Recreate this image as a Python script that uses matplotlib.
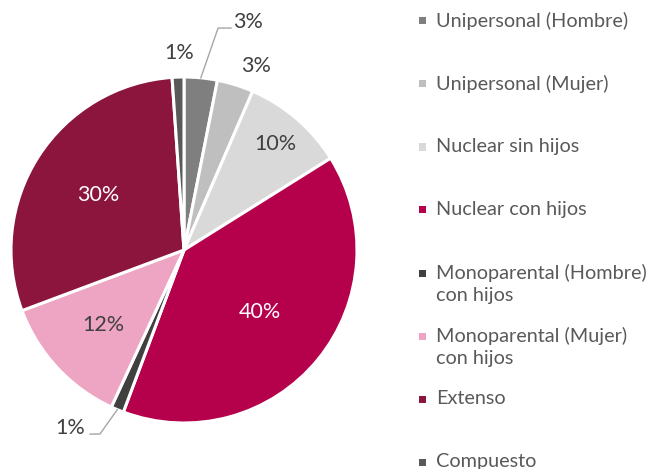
import numpy as np
import matplotlib
matplotlib.use('Agg')
import matplotlib.pyplot as plt
from matplotlib.patches import Rectangle

##DATA##########################################################################
categorias = ['Unipersonal (Hombre)', 'Unipersonal (Mujer)', 'Nuclear sin hijos',
              'Nuclear con hijos', 'Monoparental (Hombre)\ncon hijos',
              'Monoparental (Mujer)\ncon hijos', 'Extenso', 'Compuesto']
porcentajes = [3.1, 3.4, 9.6, 39.6, 1.2, 12.4, 29.6, 1.1]
colores = ['#7f7f7f', '#bfbfbf', '#d9d9d9', '#b5004b', '#404040',
           '#eea5c3', '#8c153d', '#595959']
################################################################################

plt.rcParams['font.family'] = ['Lato', 'DejaVu Sans']

fig = plt.figure(figsize=(6.52, 4.69), dpi=100)
ax = fig.add_axes([11 / 652, 46 / 469, 346 / 652, 346 / 469])
wedges, _ = ax.pie(porcentajes, colors=colores, startangle=90, counterclock=False,
                   radius=1, wedgeprops=dict(edgecolor='white', linewidth=2.2))
ax.set_xlim(-1, 1)
ax.set_ylim(-1, 1)
ax.set_aspect('equal')
ax.axis('off')

# label placement: radius factor for inside labels, explicit spot for outside ones
dentro = {2: 0.81, 3: 0.565, 5: 0.635, 6: 0.59}
color_txt = {2: '#404040', 3: 'white', 5: '#404040', 6: 'white'}
fuera = {1: (0.416, 1.064), 7: (-0.03, 1.139)}
con_linea = {0: ((0.37, 1.318), [(0.197, 1.283), (0.272, 1.283)]),
             4: ((-0.659, -1.029), [(-0.486, -1.064), (-0.543, -1.064)])}
fs = 15.5

cum = np.cumsum([0] + porcentajes)
for i, v in enumerate(porcentajes):
    etiqueta = '%.0f%%' % v
    mid = np.deg2rad(90 - 3.6 * (cum[i] + v / 2))
    if i in dentro:
        r = dentro[i]
        ax.text(r * np.cos(mid), r * np.sin(mid), etiqueta, ha='center', va='center',
                fontsize=fs, color=color_txt[i])
    elif i in fuera:
        x, y = fuera[i]
        ax.text(x, y, etiqueta, ha='center', va='center', fontsize=fs, color='#404040')
    else:
        (x, y), pts = con_linea[i]
        x0, y0 = 1.0 * np.cos(mid), 1.0 * np.sin(mid)
        xs = [x0] + [p[0] for p in pts]
        ys = [y0] + [p[1] for p in pts]
        ax.plot(xs, ys, color='#a6a6a6', lw=1, clip_on=False)
        ax.text(x, y, etiqueta, ha='center', va='center', fontsize=fs, color='#404040')

# legend, one entry every 63 px
for i, (cat, col) in enumerate(zip(categorias, colores)):
    ypx = 21 + 63 * i
    yf = 1 - ypx / 469
    fig.patches.append(Rectangle((419 / 652, yf - 3.5 / 469), 7 / 652, 7 / 469,
                                 transform=fig.transFigure, facecolor=col,
                                 edgecolor='none'))
    fig.text(436 / 652, yf + 9 / 469, cat, ha='left', va='top', fontsize=14.3,
             color='#595959', linespacing=1.32)

fig.savefig('out.png', dpi=100)
